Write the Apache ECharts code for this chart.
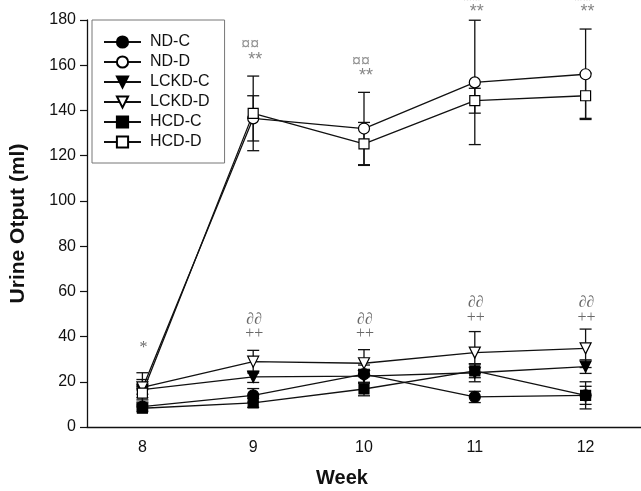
<!DOCTYPE html>
<html>
<head>
<meta charset="utf-8">
<script src="https://cdn.jsdelivr.net/npm/echarts@6/dist/echarts.min.js"></script>
<style>html,body{margin:0;padding:0;background:#fff;}#c{width:641px;height:491px;}</style>
</head>
<body>
<div id="c"></div>
<script>
var weeks = ['8', '9', '10', '11', '12'];
var ndC = [9, 14, 23.4, 13.3, 14];
var ndCErr = [1.5, 3, 4, 2.5, 4];
var ndD = [17, 136.5, 132, 152.4, 156];
var ndDErr = [4, 10, 16, 27.5, 20];
var lckdC = [16.5, 22.2, 22.5, 24, 26.7];
var lckdCErr = [2, 2.5, 3, 4, 3];
var lckdD = [17.5, 28.9, 28.2, 32.9, 34.8];
var lckdDErr = [6.5, 5, 6, 9.3, 8.5];
var hcdC = [8.3, 10.7, 16.8, 24.8, 14];
var hcdCErr = [1.5, 2, 3, 3, 6];
var hcdD = [15, 138.7, 125.2, 144.3, 146.5];
var hcdDErr = [3, 16.5, 9.5, 5.5, 10];
var yTicks = [0, 20, 40, 60, 80, 100, 120, 140, 160, 180];
// annotations: [week index, value, text]
var annotUpperA = [[1, 169, '¤¤'], [2, 161.4, '¤¤'], [3, 189.7, '¤¤'], [4, 189.7, '¤¤']];
var annotUpperB = [[1, 162.3, '**'], [2, 155.2, '**'], [3, 183.5, '**'], [4, 183.5, '**']];
var annotLower = [[0, 34.9, '*'], [1, 47.3, '∂∂'], [1, 41.1, '++'], [2, 47.3, '∂∂'], [2, 41.1, '++'],
                  [3, 54.8, '∂∂'], [3, 48.2, '++'], [4, 54.8, '∂∂'], [4, 48.2, '++']];

var groups = [
  {name: 'ND-C', mean: ndC, err: ndCErr, symbol: 'circle', fill: '#000', size: 11, rot: 0},
  {name: 'ND-D', mean: ndD, err: ndDErr, symbol: 'circle', fill: '#fff', size: 11, rot: 0},
  {name: 'LCKD-C', mean: lckdC, err: lckdCErr, symbol: 'triangle', fill: '#000', size: 11, rot: 180},
  {name: 'LCKD-D', mean: lckdD, err: lckdDErr, symbol: 'triangle', fill: '#fff', size: 11, rot: 180},
  {name: 'HCD-C', mean: hcdC, err: hcdCErr, symbol: 'rect', fill: '#000', size: 10, rot: 0},
  {name: 'HCD-D', mean: hcdD, err: hcdDErr, symbol: 'rect', fill: '#fff', size: 10, rot: 0}
];

var errData = [];
groups.forEach(function (g) {
  g.mean.forEach(function (m, i) { errData.push([i, m - g.err[i], m + g.err[i]]); });
});

var series = [{
  type: 'custom',
  z: 1,
  silent: true,
  data: errData,
  renderItem: function (params, api) {
    var x = api.value(0);
    var lo = api.coord([x, api.value(1)]);
    var hi = api.coord([x, api.value(2)]);
    var w = 6;
    var st = {stroke: '#111', lineWidth: 1.3};
    return {type: 'group', children: [
      {type: 'line', shape: {x1: lo[0], y1: lo[1], x2: hi[0], y2: hi[1]}, style: st},
      {type: 'line', shape: {x1: lo[0] - w, y1: lo[1], x2: lo[0] + w, y2: lo[1]}, style: st},
      {type: 'line', shape: {x1: hi[0] - w, y1: hi[1], x2: hi[0] + w, y2: hi[1]}, style: st}
    ]};
  }
}];

groups.forEach(function (g) {
  series.push({
    name: g.name,
    type: 'line',
    z: 3,
    data: g.mean,
    symbol: g.symbol,
    symbolSize: g.size,
    symbolRotate: g.rot,
    showAllSymbol: true,
    lineStyle: {color: '#111', width: 1.3},
    itemStyle: {color: g.fill, borderColor: '#000', borderWidth: 1.2, opacity: 1},
    emphasis: {disabled: true},
    animation: false
  });
});

function annotSeries(data, color, font, size, dx) {
  return {
    type: 'scatter', z: 5, clip: false, silent: true, symbolSize: 0,
    data: data,
    label: {show: true, position: 'inside', color: color, fontFamily: font, fontSize: size,
      offset: [dx, 0],
      formatter: function (p) { return p.data[2]; }}
  };
}
series.push(annotSeries(annotUpperA, '#777', 'Liberation Sans, Arial', 16, -3));
series.push(annotSeries(annotUpperB, '#666', 'Liberation Sans, Arial', 18, 2));
series.push(annotSeries(annotLower, '#444', 'Liberation Serif, Times New Roman', 16, 1));

var chart = echarts.init(document.getElementById('c'), null, {renderer: 'canvas'});
chart.setOption({
  animation: false,
  backgroundColor: '#fff',
  textStyle: {fontFamily: 'Liberation Sans, Arial, sans-serif'},
  grid: {left: 86, top: 20, bottom: 64, right: -10, containLabel: false},
  legend: {
    orient: 'vertical', left: 92, top: 20,
    padding: [14, 15, 13, 11],
    itemWidth: 37, itemHeight: 14, itemGap: 4,
    borderColor: '#777', borderWidth: 1,
    data: groups.map(function (g) { return g.name; }),
    textStyle: {fontSize: 16, color: '#111', padding: [0, 0, 0, 4]},
    selectedMode: false
  },
  xAxis: {
    type: 'category', data: weeks, boundaryGap: true,
    axisLine: {lineStyle: {color: '#111', width: 1.3}},
    axisTick: {alignWithLabel: true, length: 6, lineStyle: {color: '#111', width: 1.2}},
    axisLabel: {fontSize: 16, color: '#111', margin: 13},
    splitLine: {show: false}
  },
  yAxis: {
    type: 'value', min: yTicks[0], max: yTicks[yTicks.length - 1], interval: 20,
    name: 'Urine Otput (ml)', nameLocation: 'middle', nameGap: 58,
    nameTextStyle: {fontSize: 21, fontWeight: 'bold', color: '#111'},
    axisLine: {show: true, lineStyle: {color: '#111', width: 1.3}},
    axisTick: {show: true, length: 7, lineStyle: {color: '#111', width: 1.2}},
    axisLabel: {fontSize: 16, color: '#111', margin: 11},
    splitLine: {show: false}
  },
  graphic: [{
    type: 'text', left: 316, top: 468,
    style: {text: 'Week', font: 'bold 20px Liberation Sans, Arial', fill: '#111'}
  }],
  series: series
});
</script>
</body>
</html>
